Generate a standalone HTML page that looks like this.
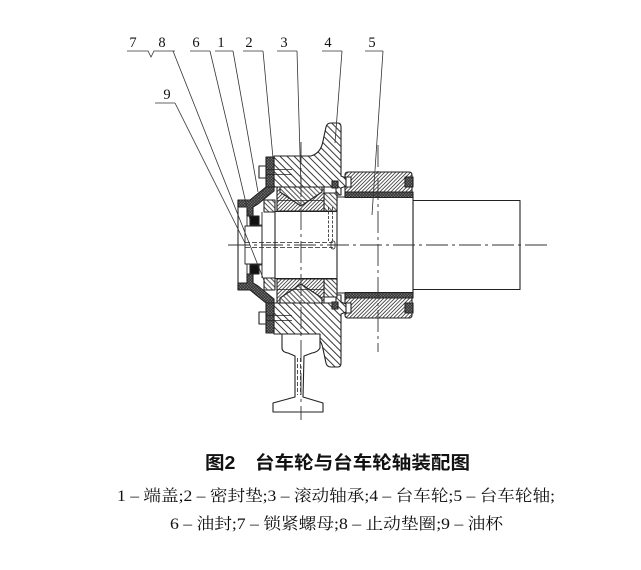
<!DOCTYPE html>
<html>
<head>
<meta charset="utf-8">
<style>
  html,body{margin:0;padding:0;background:#fff;}
  svg{display:block;}
</style>
</head>
<body>
<svg width="641" height="570" viewBox="0 0 641 570" xmlns="http://www.w3.org/2000/svg">
  <defs>
    <pattern id="h1" width="5" height="5" patternUnits="userSpaceOnUse" patternTransform="rotate(-45)">
      <rect width="5" height="5" fill="#fff"/>
      <line x1="2.5" y1="0" x2="2.5" y2="5" stroke="#222" stroke-width="0.9"/>
    </pattern>
    <pattern id="h1s" width="3.5" height="3.5" patternUnits="userSpaceOnUse" patternTransform="rotate(-45)">
      <rect width="3.5" height="3.5" fill="#fff"/>
      <line x1="1.75" y1="0" x2="1.75" y2="3.5" stroke="#222" stroke-width="0.8"/>
    </pattern>
    <pattern id="h2" width="2.6" height="2.6" patternUnits="userSpaceOnUse" patternTransform="rotate(45)">
      <rect width="2.6" height="2.6" fill="#fff"/>
      <line x1="1.3" y1="0" x2="1.3" y2="2.6" stroke="#222" stroke-width="0.75"/>
    </pattern>
    <pattern id="hx" width="2" height="2" patternUnits="userSpaceOnUse" patternTransform="rotate(45)">
      <rect width="2" height="2" fill="#888"/>
      <line x1="1" y1="0" x2="1" y2="2" stroke="#222" stroke-width="0.7"/>
      <line x1="0" y1="1" x2="2" y2="1" stroke="#222" stroke-width="0.7"/>
    </pattern>
  </defs>

  <rect width="641" height="570" fill="#fff"/>

  <g stroke="#222" stroke-width="1.1" stroke-linejoin="round">
    <!-- Shaft (5) -->
    <rect x="413" y="200.5" width="107" height="89" fill="#fff"/>
    <rect x="337" y="197" width="76" height="96" fill="#fff"/>

    <!-- Sleeve upper -->
    <path d="M345,192 L345,175 Q345,172 348,172 L409,172 Q412,172 412,175 L412,192 Z" fill="url(#h2)"/>
    <rect x="345" y="177" width="6" height="10" fill="#fff"/>
    <rect x="405" y="177" width="8" height="10" fill="url(#hx)"/>
    <rect x="345" y="192" width="68" height="5.5" fill="url(#hx)"/>
    <!-- Sleeve lower -->
    <path d="M345,298 L345,315 Q345,318 348,318 L409,318 Q412,318 412,315 L412,298 Z" fill="url(#h2)"/>
    <rect x="345" y="303" width="6" height="10" fill="#fff"/>
    <rect x="405" y="303" width="8" height="10" fill="url(#hx)"/>
    <rect x="345" y="292.5" width="68" height="5.5" fill="url(#hx)"/>

    <!-- Wheel (4) upper -->
    <path d="M274,156 L311,156 Q321,153 323,141 L326,127 Q327,123 331,123 L338,123 Q341,123 341,127 L341,176 L346,178 L346,186 L341,188 L341,195 L336,195 L336,187 L274,187 Z" fill="url(#h1)"/>
    <!-- Wheel lower -->
    <path d="M274,334 L311,334 Q321,337 323,349 L326,363 Q327,367 331,367 L338,367 Q341,367 341,363 L341,314 L346,312 L346,304 L341,302 L341,295 L336,295 L336,303 L274,303 Z" fill="url(#h1)"/>

    <!-- seal squares near wheel -->
    <rect x="332" y="181" width="6" height="7" fill="url(#hx)"/>
    <rect x="332" y="302" width="6" height="7" fill="url(#hx)"/>

    <!-- right spacers -->
    <rect x="324" y="193" width="13" height="18" fill="url(#h1s)"/>
    <rect x="324" y="279" width="13" height="18" fill="url(#h1s)"/>

    <!-- Bearing (3) upper -->
    <rect x="277" y="187" width="47" height="24" fill="url(#h2)"/>
    <path d="M280,187 L322,187 L322,192 L301,206 L280,192 Z" fill="url(#h1s)"/>
    <line x1="277" y1="200.5" x2="324" y2="200.5" stroke-width="0.8"/>
    <!-- Bearing lower -->
    <rect x="277" y="279" width="47" height="24" fill="url(#h2)"/>
    <path d="M280,303 L322,303 L322,298 L301,284 L280,298 Z" fill="url(#h1s)"/>
    <line x1="277" y1="289.5" x2="324" y2="289.5" stroke-width="0.8"/>

    <!-- left spacer rings -->
    <rect x="264" y="200" width="11" height="12" fill="url(#h1s)"/>
    <rect x="264" y="278" width="11" height="12" fill="url(#h1s)"/>

    <!-- Gasket (2) -->
    <rect x="266" y="157" width="8" height="30" fill="url(#hx)"/>
    <rect x="266" y="303" width="8" height="30" fill="url(#hx)"/>

    <!-- Bolts -->
    <rect x="259" y="166" width="7" height="12" fill="#fff"/>
    <line x1="266" y1="169.5" x2="292" y2="169.5" stroke-width="0.7"/>
    <line x1="266" y1="174.5" x2="292" y2="174.5" stroke-width="0.7"/>
    <rect x="259" y="312" width="7" height="12" fill="#fff"/>
    <line x1="266" y1="315.5" x2="292" y2="315.5" stroke-width="0.7"/>
    <line x1="266" y1="320.5" x2="292" y2="320.5" stroke-width="0.7"/>

    <!-- End cap (1) -->
    <polygon points="266,187 274,187 274,191 258,204 253,207 253,216 247,216 247,207 238,207 238,200 250,200" fill="url(#hx)"/>
    <polygon points="266,303 274,303 274,299 258,286 253,283 253,274 247,274 247,283 238,283 238,290 250,290" fill="url(#hx)"/>
    <line x1="238" y1="200" x2="238" y2="290"/>
    <line x1="247" y1="216" x2="247" y2="274" stroke-width="0.9"/>

    <!-- Oil seal (6) -->
    <rect x="250" y="216" width="9" height="9" fill="#111"/>
    <rect x="250" y="265" width="9" height="9" fill="#111"/>

    <!-- nut / oil cup block -->
    <rect x="245" y="226" width="17" height="38" fill="#fff" stroke-width="0.9"/>
    <line x1="262" y1="212" x2="262" y2="278" stroke-width="0.9"/>
    <line x1="275" y1="211" x2="275" y2="279"/>
    <line x1="250" y1="225" x2="262" y2="225" stroke-width="0.8"/>
    <line x1="250" y1="265" x2="262" y2="265" stroke-width="0.8"/>

    <!-- bore lines -->
    <line x1="275" y1="211.5" x2="337" y2="211.5"/>
    <line x1="275" y1="278.5" x2="337" y2="278.5"/>

    <!-- Rail -->
    <path d="M282,334 L320,334 L320,348 Q318,352 312,353 L304,356 L303,397 L323,403 L323,412 L273,412 L273,403 L295,397 L295,356 L288,353 Q282,352 282,348 Z" fill="#fff"/>
  </g>

  <!-- oil passage (dashed) -->
  <g stroke="#222" stroke-width="0.8" fill="none">
    <line x1="245" y1="242.5" x2="333" y2="242.5" stroke-dasharray="5 2"/>
    <line x1="245" y1="247.5" x2="333" y2="247.5" stroke-dasharray="5 2"/>
    <rect x="331" y="241" width="4" height="8" rx="2"/>
    <line x1="328.5" y1="207" x2="328.5" y2="241" stroke-dasharray="3 1.5"/>
    <line x1="332.5" y1="207" x2="332.5" y2="241" stroke-dasharray="3 1.5"/>
    <line x1="297.5" y1="358" x2="297.5" y2="395" stroke-dasharray="4 2"/>
    <line x1="300.5" y1="358" x2="300.5" y2="395" stroke-dasharray="4 2"/>
  </g>

  <!-- Center lines -->
  <g stroke="#333" stroke-width="0.9" fill="none" stroke-dasharray="22 4 3 4">
    <line x1="228" y1="245" x2="548" y2="245"/>
    <line x1="301" y1="142" x2="301" y2="420"/>
    <line x1="378" y1="145" x2="378" y2="352"/>
  </g>

  <!-- Leader lines -->
  <g stroke="#333" stroke-width="0.8" fill="none">
    <polyline points="127,51 148,51 151,57 154,51 175,51"/>
    <line x1="173" y1="51" x2="265" y2="283"/>
    <line x1="155" y1="103" x2="175" y2="103"/>
    <line x1="175" y1="103" x2="245" y2="243"/>
    <line x1="190" y1="51" x2="210" y2="51"/>
    <line x1="210" y1="51" x2="250" y2="220"/>
    <line x1="215" y1="51" x2="233" y2="51"/>
    <line x1="233" y1="51" x2="258" y2="192"/>
    <line x1="243" y1="51" x2="263" y2="51"/>
    <line x1="263" y1="51" x2="273" y2="158"/>
    <line x1="277" y1="51" x2="297" y2="51"/>
    <line x1="297" y1="51" x2="301" y2="188"/>
    <line x1="322" y1="51" x2="342" y2="51"/>
    <line x1="342" y1="51" x2="335" y2="143"/>
    <line x1="365" y1="51" x2="383" y2="51"/>
    <line x1="383" y1="51" x2="372" y2="215"/>
  </g>

  <!-- Labels -->
  <g font-family="'Liberation Serif', serif" font-size="14.5" fill="#111" text-anchor="middle">
    <text x="133" y="47">7</text>
    <text x="162" y="47">8</text>
    <text x="196" y="47">6</text>
    <text x="221" y="47">1</text>
    <text x="249" y="47">2</text>
    <text x="284" y="47">3</text>
    <text x="328" y="47">4</text>
    <text x="372" y="47">5</text>
    <text x="167" y="99">9</text>
  </g>

  <!-- Captions -->
  <text x="205" y="469" font-family="'Liberation Sans', 'Noto Sans CJK SC', sans-serif" font-size="18" font-weight="bold" fill="#111" textLength="265" lengthAdjust="spacingAndGlyphs">图2　台车轮与台车轮轴装配图</text>
  <text x="117" y="501" font-family="'Liberation Serif', 'Noto Serif CJK SC', serif" font-size="16" fill="#111" textLength="438" lengthAdjust="spacingAndGlyphs">1 – 端盖;2 – 密封垫;3 – 滚动轴承;4 – 台车轮;5 – 台车轮轴;</text>
  <text x="170" y="529" font-family="'Liberation Serif', 'Noto Serif CJK SC', serif" font-size="16" fill="#111" textLength="333" lengthAdjust="spacingAndGlyphs">6 – 油封;7 – 锁紧螺母;8 – 止动垫圈;9 – 油杯</text>
</svg>
</body>
</html>
